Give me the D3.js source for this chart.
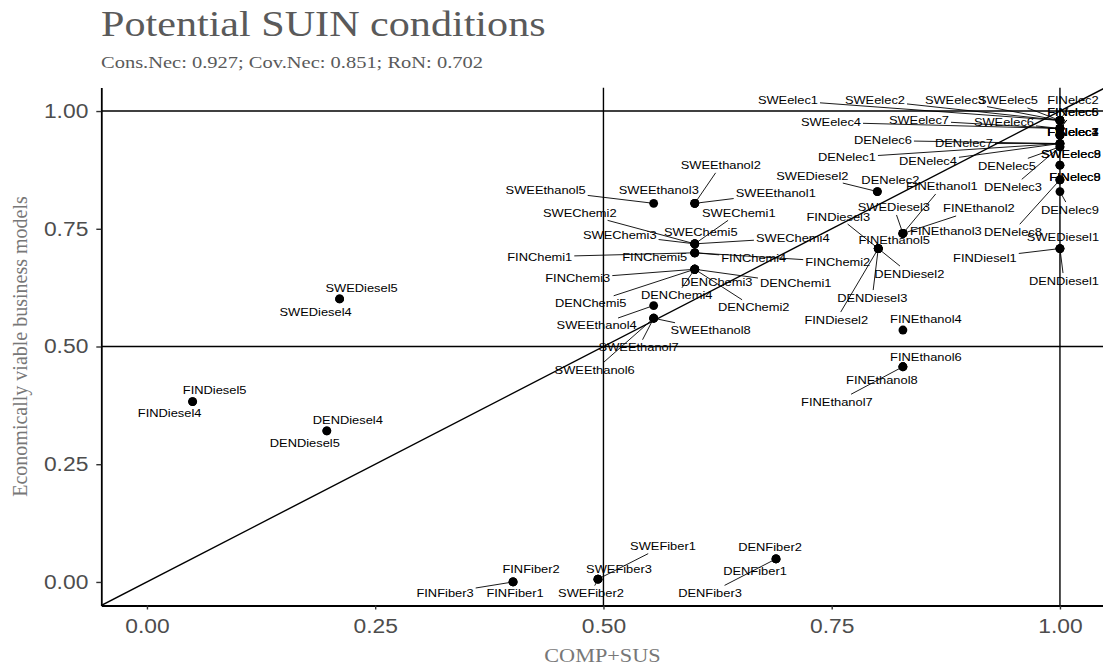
<!DOCTYPE html>
<html>
<head>
<meta charset="utf-8">
<script src="https://cdn.jsdelivr.net/npm/d3@7"></script>
<style>
  body { margin: 0; background: #fff; }
</style>
</head>
<body>
<svg id="chart" width="1103" height="670"></svg>
<script>
// case names
const caseNames = [
  "SWEelec1", "SWEelec2", "SWEelec3", "SWEelec4", "SWEelec5", "SWEelec6", "SWEelec7", "SWEelec8", "SWEelec9",
  "FINelec1", "FINelec2", "FINelec3", "FINelec4", "FINelec5", "FINelec6", "FINelec7", "FINelec8", "FINelec9",
  "DENelec1", "DENelec2", "DENelec3", "DENelec4", "DENelec5", "DENelec6", "DENelec7", "DENelec8", "DENelec9",
  "SWEEthanol1", "SWEEthanol2", "SWEEthanol3", "SWEEthanol4", "SWEEthanol5", "SWEEthanol6", "SWEEthanol7", "SWEEthanol8",
  "FINEthanol1", "FINEthanol2", "FINEthanol3", "FINEthanol4", "FINEthanol5", "FINEthanol6", "FINEthanol7", "FINEthanol8",
  "SWEChemi1", "SWEChemi2", "SWEChemi3", "SWEChemi4", "SWEChemi5",
  "FINChemi1", "FINChemi2", "FINChemi3", "FINChemi4", "FINChemi5",
  "DENChemi1", "DENChemi2", "DENChemi3", "DENChemi4", "DENChemi5",
  "SWEDiesel1", "SWEDiesel2", "SWEDiesel3", "SWEDiesel4", "SWEDiesel5",
  "FINDiesel1", "FINDiesel2", "FINDiesel3", "FINDiesel4", "FINDiesel5",
  "DENDiesel1", "DENDiesel2", "DENDiesel3", "DENDiesel4", "DENDiesel5",
  "SWEFiber1", "SWEFiber2", "SWEFiber3",
  "FINFiber1", "FINFiber2", "FINFiber3",
  "DENFiber1", "DENFiber2", "DENFiber3"
];

// COMP+SUS (x)
const compSus = [
  1, 1, 1, 1, 1, 1, 1, 1, 1,
  1, 1, 1, 1, 1, 1, 1, 1, 1,
  1, 0.8, 1, 1, 1, 1, 1, 1, 1,
  0.6, 0.6, 0.6, 0.555, 0.555, 0.555, 0.555, 0.555,
  0.828, 0.828, 0.828, 0.828, 0.801, 0.828, 0.828, 0.828,
  0.6, 0.6, 0.6, 0.6, 0.6,
  0.6, 0.6, 0.6, 0.6, 0.6,
  0.6, 0.6, 0.6, 0.6, 0.6,
  1, 0.8, 0.828, 0.211, 0.211,
  1, 0.801, 0.801, 0.05, 0.05,
  1, 0.801, 0.801, 0.197, 0.197,
  0.494, 0.494, 0.494,
  0.401, 0.401, 0.401,
  0.689, 0.689, 0.689
];

// Economically viable business models (y)
const viable = [
  0.98, 0.98, 0.98, 0.963, 0.98, 0.963, 0.963, 0.885, 0.885,
  0.949, 0.98, 0.949, 0.949, 0.963, 0.963, 0.949, 0.854, 0.854,
  0.931, 0.829, 0.924, 0.931, 0.924, 0.931, 0.931, 0.854, 0.829,
  0.804, 0.804, 0.804, 0.587, 0.804, 0.56, 0.56, 0.56,
  0.74, 0.74, 0.74, 0.535, 0.708, 0.457, 0.457, 0.457,
  0.718, 0.718, 0.718, 0.718, 0.718,
  0.699, 0.699, 0.664, 0.699, 0.699,
  0.664, 0.664, 0.664, 0.664, 0.664,
  0.708, 0.829, 0.74, 0.601, 0.601,
  0.708, 0.708, 0.708, 0.383, 0.383,
  0.708, 0.708, 0.708, 0.321, 0.321,
  0.006, 0.006, 0.006,
  0, 0, 0,
  0.049, 0.049, 0.049
];

// repelled label nudges in px (label centre relative to its point)
const nudgeX = [
  -272, -185, -105, -229, -52, -56, -141, 11, 11,
  13, 13, 13, 13, 13, 13, 13, 15, 15,
  -213, 13, -47, -132, -53, -177, -96, -47, 10,
  81, 26, -36, -57, -108, -59, -15, 57,
  39, 76, 43, 23, 16, 23, -66, -21,
  44, -115, -75, 98, 6,
  -155, 143, -117, 59, -40,
  101, 59, 22, -18, -104,
  3, -65, -9, -24, 22,
  -75, -42, -40, -23, 22,
  4, 31, -6, 21, -22,
  65, -7, 21,
  2, 18, -68,
  -21, -6, -66
];
const nudgeY = [
  -20, -20, -20, -6, -20, -6, -8, -11, -11,
  -3, -20, -3, -3, -16, -16, -3, -3, -3,
  14, -12, 40, 18, 19, -3, 0, 52, 18,
  -10, -38, -13, 20, -13, 52, 29, 12,
  -47, -25, -2, -11, -9, -10, 35, 13,
  -31, -31, -9, -6, -12,
  4, 9, 9, 5, 4,
  14, 38, 13, 26, 34,
  -12, -16, -26, 13, -11,
  9, 71, -32, 11, -12,
  32, 25, 49, -11, 12,
  -33, 14, -10,
  11, -13, 11,
  12, -12, 34
];

const xTicks = [0, 0.25, 0.5, 0.75, 1];
const yTicks = [0, 0.25, 0.5, 0.75, 1];
const refLines = [0.5, 1];

const titleText = "Potential SUIN conditions";
const subtitleText = "Cons.Nec: 0.927; Cov.Nec: 0.851; RoN: 0.702";
const xTitle = "COMP+SUS";
const yTitle = "Economically viable business models";

const data = caseNames.map((name, i) => ({
  name: name, x: compSus[i], y: viable[i], nx: nudgeX[i], ny: nudgeY[i]
}));

// the source picture is a bit wider than it is tall, so text is stretched sideways
const STRETCH = 1.17;
function stretchText(sel, k) {
  sel.each(function() {
    const w = this.getComputedTextLength();
    d3.select(this).attr("textLength", w * k).attr("lengthAdjust", "spacingAndGlyphs");
  });
}

const svg = d3.select("#chart");
const panel = { left: 101.3, right: 1105.6, top: 87.5, bottom: 605.5 };

let x = d3.scaleLinear().domain([-0.05, 1.05]).range([panel.left, panel.right]);
let y = d3.scaleLinear().domain([-0.05, 1.05]).range([panel.bottom, panel.top]);

svg.append("defs").append("clipPath").attr("id", "panel-clip")
  .append("rect")
  .attr("x", panel.left).attr("y", panel.top)
  .attr("width", panel.right - panel.left).attr("height", panel.bottom - panel.top);

const plot = svg.append("g").attr("clip-path", "url(#panel-clip)");

// reference lines at 0.5 and 1
plot.selectAll("line.vref")
  .data(refLines)
  .enter().append("line")
  .attr("class", "vref")
  .attr("x1", d => x(d)).attr("x2", d => x(d))
  .attr("y1", panel.top).attr("y2", panel.bottom)
  .attr("stroke", "#000").attr("stroke-width", 1.4);

plot.selectAll("line.href")
  .data(refLines)
  .enter().append("line")
  .attr("class", "href")
  .attr("y1", d => y(d)).attr("y2", d => y(d))
  .attr("x1", panel.left).attr("x2", panel.right)
  .attr("stroke", "#000").attr("stroke-width", 1.4);

// diagonal y = x
plot.append("line")
  .attr("x1", x(-0.05)).attr("y1", y(-0.05))
  .attr("x2", x(1.05)).attr("y2", y(1.05))
  .attr("stroke", "#000").attr("stroke-width", 1.4);

// axes
let xAxis = svg.append("g")
  .attr("transform", `translate(0,${panel.bottom})`)
  .call(d3.axisBottom(x).tickValues(xTicks).tickFormat(d3.format(".2f")).tickSizeInner(4).tickSizeOuter(0).tickPadding(10));
let yAxis = svg.append("g")
  .attr("transform", `translate(${panel.left},0)`)
  .call(d3.axisLeft(y).tickValues(yTicks).tickFormat(d3.format(".2f")).tickSizeInner(5).tickSizeOuter(0).tickPadding(8));

[xAxis, yAxis].forEach(ax => {
  ax.select(".domain").attr("stroke", "#000").attr("stroke-width", 1.8);
  ax.selectAll(".tick line").attr("stroke", "#333").attr("stroke-width", 1.4);
  ax.selectAll(".tick text")
    .attr("fill", "#4d4d4d")
    .style("font-family", "'Liberation Sans', Arial, sans-serif")
    .style("font-size", "19.5px");
  stretchText(ax.selectAll(".tick text"), STRETCH);
});

// points
plot.selectAll("circle")
  .data(data)
  .enter()
  .append("circle")
  .attr("cx", d => x(d.x))
  .attr("cy", d => y(d.y))
  .attr("r", 4.4)
  .attr("fill", "#000");

// labels go in after the segments so the text sits on top
const segLayer = svg.append("g");
const labLayer = svg.append("g");

let labels = labLayer.selectAll("text")
  .data(data)
  .enter()
  .append("text")
  .attr("x", d => x(d.x) + d.nx)
  .attr("y", d => y(d.y) + d.ny)
  .attr("dy", "0.36em")
  .attr("text-anchor", "middle")
  .style("font-family", "'Liberation Sans', Arial, sans-serif")
  .style("font-size", "11px")
  .attr("fill", "#000")
  .text(d => d.name);
stretchText(labels, STRETCH);

// ggrepel-ish segments: point to the edge of the label box
labels.each(function(d) {
  const px = x(d.x), py = y(d.y);
  const cx = px + d.nx, cy = py + d.ny;
  const hw = +this.getAttribute("textLength") / 2 + 2;
  const hh = 5.5 + 2;
  const vx = px - cx, vy = py - cy;
  const ox = Math.max(Math.abs(vx) - hw, 0), oy = Math.max(Math.abs(vy) - hh, 0);
  if (Math.hypot(ox, oy) < 6) return;
  const t = Math.min(hw / Math.max(Math.abs(vx), 1e-6), hh / Math.max(Math.abs(vy), 1e-6));
  segLayer.append("line")
    .attr("x1", px).attr("y1", py)
    .attr("x2", cx + vx * t).attr("y2", cy + vy * t)
    .attr("stroke", "#000").attr("stroke-width", 0.9);
});

// titles
const serif = "'Liberation Serif', 'Times New Roman', serif";
let title = svg.append("text")
  .attr("x", 101).attr("y", 36)
  .style("font-family", serif).style("font-size", "36px")
  .attr("fill", "#5a5a5a")
  .text(titleText);
stretchText(title, STRETCH);

let subtitle = svg.append("text")
  .attr("x", 101).attr("y", 68)
  .style("font-family", serif).style("font-size", "17.5px")
  .attr("fill", "#5a5a5a")
  .text(subtitleText);
stretchText(subtitle, STRETCH);

let xLab = svg.append("text")
  .attr("x", (panel.left + panel.right) / 2 - 1).attr("y", 662)
  .attr("text-anchor", "middle")
  .style("font-family", serif).style("font-size", "19px")
  .attr("fill", "#777")
  .text(xTitle);
stretchText(xLab, STRETCH);

svg.append("text")
  .attr("transform", `translate(27,${(panel.top + panel.bottom) / 2}) rotate(-90)`)
  .attr("text-anchor", "middle")
  .style("font-family", serif).style("font-size", "20px")
  .attr("fill", "#777")
  .text(yTitle);
</script>
</body>
</html>
